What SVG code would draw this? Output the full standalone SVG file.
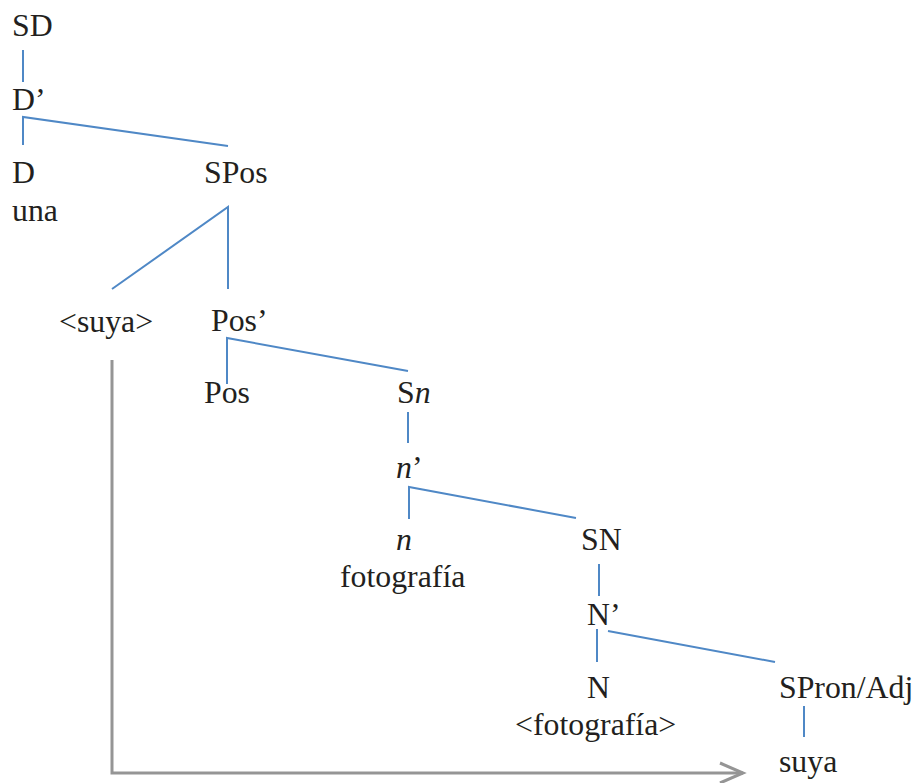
<svg xmlns="http://www.w3.org/2000/svg" width="916" height="783" viewBox="0 0 916 783">
  <style>
    .lbl { font-family: "Liberation Serif", "Times New Roman", serif; font-size: 31.8px; fill: #231f20; }
    .it { font-style: italic; }
    .edge { stroke: #4f88c6; stroke-width: 2; fill: none; }
    .move { stroke: #959595; stroke-width: 3; fill: none; }
  </style>
  <rect width="916" height="783" fill="#ffffff"/>

  <g id="connectors">
    <line class="edge" x1="23" y1="50" x2="23" y2="82"/>
    <polyline class="edge" points="23,145 23,117 228,146"/>
    <polyline class="edge" points="112,289 228,207 228,289"/>
    <polyline class="edge" points="227,384 227,338 408,371"/>
    <line class="edge" x1="408" y1="412" x2="408" y2="443"/>
    <polyline class="edge" points="409,519 409,487 576,518"/>
    <line class="edge" x1="599" y1="564" x2="599" y2="596"/>
    <line class="edge" x1="597" y1="629" x2="597" y2="662"/>
    <line class="edge" x1="608" y1="631" x2="775" y2="662"/>
    <line class="edge" x1="804" y1="706" x2="804" y2="737"/>
    <!-- movement arrow -->
    <polyline class="move" points="112,360 112,773 743,773"/>
    <polyline class="move" points="720,763 743,773 720,783"/>
  </g>

  <g id="node-SD"><text class="lbl" x="12" y="36">SD</text></g>
  <g id="node-Dbar"><text class="lbl" x="12" y="110">D’</text></g>
  <g id="node-D"><text class="lbl" x="12" y="183">D</text><text class="lbl" x="12" y="221">una</text></g>
  <g id="node-SPos"><text class="lbl" x="204" y="183">SPos</text></g>
  <g id="node-suya-trace"><text class="lbl" x="59" y="332">&lt;suya&gt;</text></g>
  <g id="node-Posbar"><text class="lbl" x="211" y="331">Pos’</text></g>
  <g id="node-Pos"><text class="lbl" x="204" y="403">Pos</text></g>
  <g id="node-Sn"><text class="lbl" x="397" y="403">S<tspan class="it">n</tspan></text></g>
  <g id="node-nbar"><text class="lbl" x="396" y="478"><tspan class="it">n</tspan>’</text></g>
  <g id="node-n"><text class="lbl it" x="396" y="550">n</text><text class="lbl" x="340" y="587">fotografía</text></g>
  <g id="node-SN"><text class="lbl" x="581" y="550">SN</text></g>
  <g id="node-Nbar"><text class="lbl" x="587" y="625">N’</text></g>
  <g id="node-N"><text class="lbl" x="587" y="698">N</text><text class="lbl" x="515" y="735">&lt;fotografía&gt;</text></g>
  <g id="node-SPronAdj"><text class="lbl" x="779" y="698">SPron/Adj</text></g>
  <g id="node-suya"><text class="lbl" x="779" y="772">suya</text></g>
</svg>
